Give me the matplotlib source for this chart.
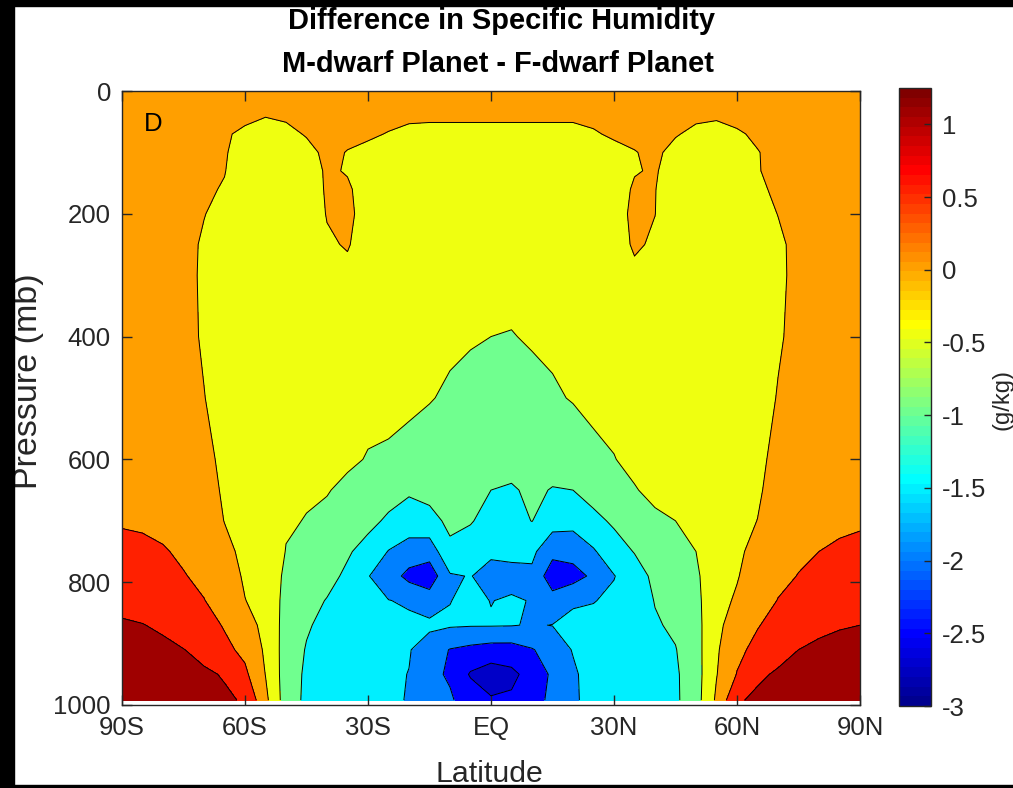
import numpy as np
import matplotlib
matplotlib.use("Agg")
import matplotlib.pyplot as plt
from matplotlib.colors import ListedColormap, Normalize
from matplotlib.patches import Rectangle
import matplotlib.cm as cm

plt.rcParams['font.family'] = ['Liberation Sans', 'DejaVu Sans']

# ---------------- data ----------------
lat = [-90, -85, -80, -75, -70, -65, -60, -55, -50, -45, -40, -35, -30, -25, -20, -15, -10, -5,
       0, 5, 10, 15, 20, 25, 30, 35, 40, 45, 50, 55, 60, 65, 70, 75, 80, 85, 90]
pressure = [0, 40, 70, 100, 130, 160, 200, 250, 300, 400, 500, 600, 650, 700, 750, 790, 830, 870, 910, 950, 992]

# one column (profile over pressure) per latitude, values in g/kg
dq_columns = [
    [0.25, 0.25, 0.22, 0.2, 0.2, 0.2, 0.2, 0.2, 0.2, 0.22, 0.26, 0.32, 0.38, 0.46, 0.62, 0.76, 0.9, 1.04, 1.12, 1.19, 1.25],    # 90S
    [0.25, 0.24, 0.2, 0.18, 0.17, 0.16, 0.16, 0.16, 0.16, 0.18, 0.22, 0.3, 0.36, 0.44, 0.59, 0.73, 0.87, 1.01, 1.1, 1.17, 1.22],  # 85S
    [0.24, 0.22, 0.17, 0.14, 0.12, 0.12, 0.12, 0.12, 0.12, 0.14, 0.18, 0.26, 0.32, 0.4, 0.53, 0.66, 0.8, 0.95, 1.07, 1.14, 1.19],  # 80S
    [0.22, 0.2, 0.14, 0.11, 0.1, 0.1, 0.1, 0.1, 0.1, 0.11, 0.15, 0.22, 0.27, 0.34, 0.44, 0.52, 0.63, 0.78, 1.01, 1.09, 1.14],      # 75S
    [0.2, 0.17, 0.1, 0.07, 0.05, 0.04, 0.01, -0.04, -0.05, -0.04, 0.01, 0.12, 0.18, 0.25, 0.33, 0.42, 0.51, 0.7, 0.88, 1.06, 1.1],  # 70S
    [0.18, 0.12, 0.03, 0.02, 0.01, -0.02, -0.1, -0.14, -0.16, -0.17, -0.15, -0.1, -0.06, -0.01, 0.12, 0.24, 0.35, 0.46, 0.62, 0.97, 1.06],  # 65S
    [0.15, 0.06, -0.05, -0.1, -0.15, -0.2, -0.24, -0.27, -0.29, -0.31, -0.3, -0.26, -0.22, -0.17, -0.11, -0.06, 0.01, 0.18, 0.38, 0.6, 0.96],  # 60S
    [0.12, 0.01, -0.1, -0.16, -0.21, -0.26, -0.3, -0.33, -0.35, -0.37, -0.37, -0.35, -0.33, -0.3, -0.26, -0.22, -0.17, -0.12, -0.07, -0.01, 0.12],  # 55S
    [0.12, 0.04, -0.07, -0.14, -0.2, -0.25, -0.29, -0.33, -0.36, -0.39, -0.41, -0.43, -0.45, -0.47, -0.51, -0.58, -0.64, -0.68, -0.71, -0.73, -0.74],  # 50S
    [0.16, 0.1, 0.02, -0.08, -0.15, -0.2, -0.25, -0.29, -0.33, -0.38, -0.42, -0.45, -0.47, -0.51, -0.65, -0.76, -0.86, -0.95, -1.03, -1.08, -1.1],  # 45S
    [0.2, 0.18, 0.12, 0.06, 0.04, 0.04, 0.02, -0.05, -0.12, -0.25, -0.35, -0.43, -0.48, -0.58, -0.72, -0.87, -1.02, -1.13, -1.21, -1.26, -1.28],  # 40S
    [0.2, 0.15, 0.06, -0.01, -0.02, 0.04, 0.08, 0.03, -0.1, -0.23, -0.34, -0.44, -0.58, -0.72, -0.95, -1.08, -1.2, -1.28, -1.33, -1.37, -1.39],  # 35S
    [0.18, 0.1, 0.03, -0.05, -0.1, -0.13, -0.15, -0.19, -0.23, -0.31, -0.4, -0.52, -0.68, -0.88, -1.16, -1.48, -1.38, -1.4, -1.43, -1.45, -1.46],  # 30S
    [0.16, 0.06, -0.01, -0.08, -0.12, -0.15, -0.18, -0.22, -0.26, -0.33, -0.44, -0.53, -0.82, -1.07, -1.52, -1.75, -1.49, -1.38, -1.4, -1.42, -1.44],  # 25S
    [0.15, 0.04, -0.05, -0.1, -0.14, -0.17, -0.2, -0.24, -0.28, -0.36, -0.42, -0.63, -0.93, -1.25, -1.7, -2.15, -1.55, -1.42, -1.47, -1.51, -1.52],  # 20S
    [0.14, 0.03, -0.05, -0.11, -0.15, -0.18, -0.21, -0.25, -0.29, -0.37, -0.47, -0.78, -0.85, -1.15, -1.78, -2.3, -1.75, -1.4, -1.75, -1.9, -1.93],  # 15S
    [0.13, 0.03, -0.05, -0.12, -0.16, -0.19, -0.22, -0.26, -0.3, -0.4, -0.58, -0.75, -0.85, -0.9, -1.1, -1.55, -1.51, -1.45, -2.02, -2.05, -1.95],  # 10S
    [0.13, 0.03, -0.05, -0.12, -0.16, -0.2, -0.23, -0.28, -0.32, -0.45, -0.68, -0.82, -0.88, -0.97, -1.2, -1.48, -1.4, -1.47, -2.12, -2.55, -2.2],  # 5S
    [0.12, 0.03, -0.05, -0.13, -0.17, -0.21, -0.24, -0.29, -0.34, -0.5, -0.72, -0.88, -1.0, -1.15, -1.4, -1.7, -1.51, -1.47, -2.2, -2.75, -2.45],  # EQ
    [0.12, 0.03, -0.05, -0.13, -0.17, -0.21, -0.24, -0.29, -0.34, -0.52, -0.7, -0.86, -1.04, -1.15, -1.38, -1.65, -1.45, -1.48, -2.2, -2.62, -2.42],  # 5N
    [0.12, 0.03, -0.05, -0.13, -0.17, -0.21, -0.24, -0.28, -0.33, -0.45, -0.66, -0.85, -0.93, -0.99, -1.4, -1.6, -1.52, -1.53, -2.03, -2.3, -2.25],  # 10N
    [0.12, 0.03, -0.05, -0.13, -0.17, -0.2, -0.23, -0.27, -0.31, -0.41, -0.56, -0.84, -1.02, -1.3, -1.85, -2.3, -1.8, -1.49, -1.8, -1.92, -1.85],  # 15N
    [0.12, 0.03, -0.05, -0.13, -0.17, -0.2, -0.23, -0.27, -0.31, -0.39, -0.47, -0.8, -1.0, -1.35, -1.8, -2.2, -1.55, -1.4, -1.47, -1.58, -1.6],  # 20N
    [0.15, 0.05, -0.02, -0.1, -0.14, -0.18, -0.21, -0.25, -0.29, -0.37, -0.43, -0.57, -0.82, -1.12, -1.55, -1.9, -1.52, -1.35, -1.3, -1.28, -1.28],  # 25N
    [0.18, 0.1, 0.03, -0.06, -0.12, -0.16, -0.19, -0.22, -0.26, -0.33, -0.4, -0.51, -0.66, -0.93, -1.2, -1.52, -1.4, -1.3, -1.27, -1.25, -1.25],  # 30N
    [0.2, 0.15, 0.06, -0.01, -0.02, 0.04, 0.1, 0.06, -0.1, -0.24, -0.33, -0.42, -0.52, -0.75, -0.98, -1.2, -1.28, -1.27, -1.2, -1.18, -1.18],  # 35N
    [0.2, 0.18, 0.12, 0.05, 0.03, 0.01, 0.005, -0.06, -0.12, -0.22, -0.3, -0.38, -0.42, -0.56, -0.78, -0.9, -0.98, -1.05, -1.1, -1.1, -1.1],  # 40N
    [0.16, 0.1, 0.02, -0.08, -0.15, -0.2, -0.25, -0.29, -0.33, -0.38, -0.42, -0.45, -0.47, -0.5, -0.62, -0.72, -0.82, -0.92, -1.02, -1.07, -1.08],  # 45N
    [0.12, 0.05, -0.06, -0.14, -0.2, -0.25, -0.29, -0.33, -0.36, -0.39, -0.41, -0.43, -0.45, -0.47, -0.5, -0.57, -0.62, -0.66, -0.68, -0.7, -0.7],  # 50N
    [0.1, 0.03, -0.08, -0.15, -0.2, -0.25, -0.29, -0.32, -0.34, -0.36, -0.36, -0.34, -0.32, -0.29, -0.25, -0.21, -0.16, -0.11, -0.06, -0.02, 0.08],  # 55N
    [0.15, 0.07, -0.03, -0.09, -0.14, -0.19, -0.23, -0.26, -0.28, -0.3, -0.28, -0.24, -0.19, -0.13, -0.07, -0.03, 0.06, 0.22, 0.38, 0.52, 0.95],  # 60N
    [0.18, 0.12, 0.04, -0.01, -0.01, -0.03, -0.1, -0.15, -0.17, -0.18, -0.16, -0.1, -0.06, 0.005, 0.12, 0.24, 0.35, 0.47, 0.64, 0.93, 1.08],  # 65N
    [0.2, 0.17, 0.1, 0.07, 0.05, 0.03, 0.005, -0.05, -0.06, -0.04, 0.02, 0.12, 0.18, 0.25, 0.33, 0.42, 0.51, 0.68, 0.86, 1.05, 1.1],  # 70N
    [0.22, 0.2, 0.14, 0.11, 0.1, 0.09, 0.08, 0.075, 0.08, 0.1, 0.15, 0.22, 0.27, 0.34, 0.44, 0.51, 0.62, 0.78, 1.0, 1.08, 1.13],  # 75N
    [0.24, 0.22, 0.17, 0.14, 0.12, 0.12, 0.12, 0.12, 0.12, 0.14, 0.18, 0.25, 0.3, 0.38, 0.5, 0.64, 0.78, 0.93, 1.06, 1.13, 1.18],  # 80N
    [0.25, 0.24, 0.2, 0.18, 0.17, 0.16, 0.16, 0.16, 0.16, 0.18, 0.22, 0.29, 0.35, 0.42, 0.56, 0.7, 0.84, 0.98, 1.08, 1.16, 1.21],  # 85N
    [0.25, 0.25, 0.22, 0.2, 0.2, 0.2, 0.2, 0.2, 0.2, 0.22, 0.26, 0.32, 0.38, 0.45, 0.6, 0.73, 0.87, 1.0, 1.1, 1.18, 1.24],  # 90N
]

levels = [-3, -2.5, -2, -1.5, -1, -0.5, 0, 0.5, 1, 1.5]
band_colors = ['#0000C8', '#0000FF', '#0080FF', '#00EFFF', '#70FF8F',
               '#EFFF10', '#FF9F00', '#FF2000', '#9F0000']
xtick_vals = [-90, -60, -30, 0, 30, 60, 90]
xtick_labels = ['90S', '60S', '30S', 'EQ', '30N', '60N', '90N']
ytick_vals = [0, 200, 400, 600, 800, 1000]
cbar_ticks = [-3, -2.5, -2, -1.5, -1, -0.5, 0, 0.5, 1]
cbar_labels = ['-3', '-2.5', '-2', '-1.5', '-1', '-0.5', '0', '0.5', '1']
clim = (-3, 1.25)

# MATLAB-style jet(64) colormap for the colorbar
def matlab_jet(m=64):
    n = int(np.ceil(m / 4))
    u = np.concatenate([np.arange(1, n + 1) / n, np.ones(n - 1), np.arange(n, 0, -1) / n])
    g = int(np.ceil(n / 2)) - (1 if m % 4 == 1 else 0) + np.arange(1, len(u) + 1)
    r = g + n
    b = g - n
    J = np.zeros((m, 3))
    J[r[r <= m] - 1, 0] = u[r <= m]
    J[g[g <= m] - 1, 1] = u[g <= m]
    J[b[b >= 1] - 1, 2] = u[b >= 1]
    return J

W, H = 1013, 788
fig = plt.figure(figsize=(W / 100, H / 100), dpi=100)
fig.patch.set_facecolor('white')

ax = fig.add_axes([122 / W, 1 - 705 / H, 738 / W, 614 / H])
X, Y = np.meshgrid(lat, pressure)
Z = np.array(dq_columns).T
ax.contourf(X, Y, Z, levels=levels, colors=band_colors)
ax.contour(X, Y, Z, levels=levels[1:-1], colors='k', linewidths=0.7,
           linestyles='solid')

ax.set_xlim(-90, 90)
ax.set_ylim(1000, 0)
ax.set_xticks(xtick_vals)
ax.set_xticklabels(xtick_labels)
ax.set_yticks(ytick_vals)
axis_col = '#262626'
ax.tick_params(direction='in', length=7, width=1, colors=axis_col, labelcolor='#262626',
               labelsize=18.5, top=True, right=True, pad=8)
for s in ax.spines.values():
    s.set_color(axis_col)
    s.set_linewidth(1)

fig.text(153 / W, 1 - 124 / H, 'D', fontsize=18.5, ha='center', va='center', color='k')

# colorbar
cax = fig.add_axes([899 / W, 1 - 706 / H, 32 / W, 618 / H])
sm = cm.ScalarMappable(norm=Normalize(*clim), cmap=ListedColormap(matlab_jet(64)))
cb = fig.colorbar(sm, cax=cax, ticks=cbar_ticks)
cb.ax.set_yticklabels(cbar_labels)
cb.ax.tick_params(direction='in', length=5, width=1, colors=axis_col, labelcolor='#262626',
                  labelsize=18.5, right=True, left=False, pad=8)
cb.outline.set_edgecolor(axis_col)
cb.outline.set_linewidth(1)

# titles and labels
fig.text(501 / W, 1 - 21 / H, 'Difference in Specific Humidity', fontsize=20.9,
         fontweight='bold', ha='center', va='center')
fig.text(498 / W, 1 - 64 / H, 'M-dwarf Planet - F-dwarf Planet', fontsize=20.9,
         fontweight='bold', ha='center', va='center')
fig.text(489 / W, 1 - 774 / H, 'Latitude', fontsize=21.8, ha='center', va='center', color='#262626')
fig.text(28 / W, 1 - 381 / H, 'Pressure (mb)', fontsize=24.5, rotation=90,
         ha='center', va='center', color='#262626')
fig.text(1002 / W, 1 - 399 / H, '(g/kg)', fontsize=17, rotation=90,
         ha='center', va='center', color='#262626')

# black screenshot border
fig.add_artist(Rectangle((0, 1 - 6 / H), 1, 6 / H, transform=fig.transFigure, color='black', zorder=10))
fig.add_artist(Rectangle((0, 0), 14 / W, 1, transform=fig.transFigure, color='black', zorder=10))
fig.add_artist(Rectangle((0, 0), 1, 3 / H, transform=fig.transFigure, color='black', zorder=10))

fig.savefig('out.png', dpi=100)
